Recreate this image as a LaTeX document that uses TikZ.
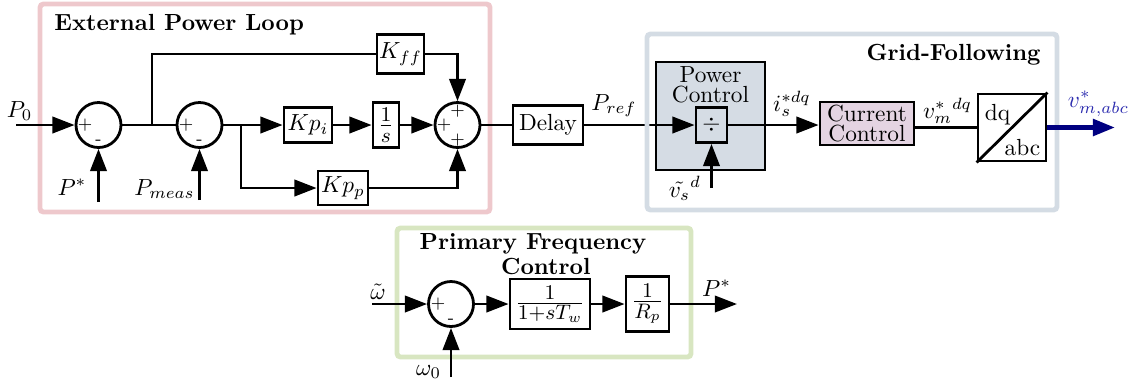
\documentclass[tikz,border=0pt]{standalone}
\usetikzlibrary{arrows.meta}
\def\u{0.429pt}
\definecolor{pinkf}{RGB}{238,200,204}
\definecolor{greyf}{RGB}{212,220,228}
\definecolor{greenf}{RGB}{216,230,193}
\definecolor{pcfill}{RGB}{213,220,228}
\definecolor{ccfill}{RGB}{228,212,226}
\definecolor{navyc}{RGB}{0,0,128}
\definecolor{bluec}{RGB}{45,45,175}
\begin{document}
\begin{tikzpicture}[x=0.429pt,y=-0.429pt, line width=1.2pt,
  >={Triangle[length=9.5pt,width=7pt]},
  box/.style={draw, line width=1.2pt, inner sep=0pt, fill=white},
  fracbox/.style={box, font=\fontsize{12.5}{14}\selectfont},
  sumc/.style={draw, circle, line width=1.2pt, minimum size=45*\u, inner sep=0pt},
  sgn/.style={font=\fontsize{7.5}{8}\selectfont, inner sep=0pt},
  lbl/.style={inner sep=0pt, anchor=base},
  frame/.style={line width=2.1pt, rounded corners=1.5pt},
  ttl/.style={font=\bfseries, inner sep=0pt},
]
\useasboundingbox (0,0) rectangle (1141,382);

% frames behind
\draw[frame, draw=pinkf] (40,4) rectangle (490,212);
\draw[frame, draw=greenf] (397,228) rectangle (691,357);

% titles
\node[ttl, anchor=base west] (t1) at (53,30) {External Power Loop};
\node[ttl, anchor=base east] (t2) at (1042,60) {Grid-Following};
\node[ttl, align=center, anchor=north, font=\bfseries\fontsize{10}{10.7}\selectfont] (t3) at (533,232) {Primary Frequency\\\hspace*{11pt}Control};

% external power loop
\node[sumc] (s1) at (98.5,125) {};
\node[sumc] (s2) at (199.5,125) {};
\node[sumc] (s3) at (457.5,125) {};
\node[box, minimum width=47*\u, minimum height=39*\u] (kff) at (400.5,54) {$K_{ff}$};
\node[box, minimum width=48*\u, minimum height=35*\u] (kpi) at (308,125) {$Kp_i$};
\node[fracbox, minimum width=26*\u, minimum height=45*\u] (ints) at (386,125) {$\frac{1}{s}$};
\node[box, minimum width=50*\u, minimum height=34*\u] (kpp) at (343,188) {$Kp_p$};
\node[box, minimum width=70*\u, minimum height=39*\u] (delay) at (548,125) {Delay};

% grid following
\node[box, fill=pcfill, minimum width=109*\u, minimum height=108*\u] (pc) at (710.5,116) {};
\node[inner sep=0pt, align=center, anchor=north, font=\fontsize{10}{8.6}\selectfont] (pctxt) at (710.5,65) {Power\\Control};
\node[box, fill=pcfill, minimum width=31*\u, minimum height=35*\u] (div) at (711.5,125) {$\div$};
\node[box, fill=ccfill, align=center, font=\fontsize{10}{8.4}\selectfont, minimum width=94*\u, minimum height=43*\u] (cc) at (867,123.5) {Current\\Control};
\node[box, minimum width=68*\u, minimum height=67*\u] (dq) at (1012,127.5) {};
\draw (dq.south west) -- (dq.north east);
\node[lbl] (dqt) at (997.5,120) {dq};
\node[lbl] (abct) at (1022.5,155) {abc};

% primary frequency control
\node[sumc] (s4) at (451,304) {};
\node[fracbox, minimum width=80*\u, minimum height=50*\u] (tf1) at (550,304) {$\frac{1}{1+sT_w}$};
\node[fracbox, minimum width=43*\u, minimum height=55*\u] (tf2) at (647.5,304) {$\frac{1}{R_p}$};

% free ends
\coordinate (p0in) at (16,125);
\coordinate (pstarin) at (98.5,202);
\coordinate (pmeasin) at (199.5,200);
\coordinate (br1) at (152,125);
\coordinate (br2) at (241,125);
\coordinate (vsin) at (711.5,188);
\coordinate (vout) at (1115,127.5);
\coordinate (win) at (372,304);
\coordinate (w0in) at (451,377);
\coordinate (pout) at (737,304);

% connectors
\draw[->] (p0in) -- (s1.west);
\draw[->] (pstarin) -- (s1.south);
\draw (s1.east) -- (s2.west);
\draw (br1) |- (kff.west);
\draw[->] (kff.east) -| (s3.north);
\draw[->] (pmeasin) -- (s2.south);
\draw[->] (s2.east) -- (kpi.west);
\draw[->] (kpi.east) -- (ints.west);
\draw[->] (ints.east) -- (s3.west);
\draw[->] (br2) |- (kpp.west);
\draw[->] (kpp.east) -| (s3.south);
\draw (s3.east) -- (delay.west);
\draw[->] (delay.east) -- (div.west);
\draw[->] (vsin) -- (div.south);
\draw[->] (div.east) -- (div.east -| cc.west);
\draw (cc.east |- dq.west) -- (dq.west);

\draw[->] (win) -- (s4.west);
\draw[->] (w0in) -- (s4.south);
\draw[->] (s4.east) -- (tf1.west);
\draw[->] (tf1.east) -- (tf2.west);
\draw[->] (tf2.east) -- (pout);

% grey frame on top
\draw[frame, draw=greyf] (647,34) rectangle (1057,210);
\draw[->, draw=navyc, line width=2pt] (dq.east) -- (vout);

% signs
\node[sgn] (s1p) at ([shift={(-13.5,0)}]s1.center) {+};
\node[sgn] (s1m) at ([shift={(0,17)}]s1.center) {-};
\node[sgn] (s2p) at ([shift={(-13.5,0)}]s2.center) {+};
\node[sgn] (s2m) at ([shift={(0,17)}]s2.center) {-};
\node[sgn] (s3l) at ([shift={(-13.5,0)}]s3.center) {+};
\node[sgn] (s3t) at ([shift={(0,-14)}]s3.center) {+};
\node[sgn] (s3b) at ([shift={(0,15)}]s3.center) {+};
\node[sgn] (s4p) at ([shift={(-13,0)}]s4.center) {+};
\node[sgn] (s4m) at ([shift={(0,17)}]s4.center) {-};

% labels
\node[lbl] (lp0) at (19.5,117) {$P_0$};
\node[lbl] (lpstar) at (72,195) {$P^*$};
\node[lbl] (lpmeas) at (164.5,195) {$P_{meas}$};
\node[lbl] (lpref) at (614,110) {$P_{ref}$};
\node[lbl] (lvs) at (685,197) {$\tilde{v_s}^d$};
\node[lbl] (lis) at (792,111) {$i_s^{*dq}$};
\node[lbl] (lvm) at (947.5,118) {$v_m^{*}{}^{dq}$};
\node[lbl, text=bluec] (lvabc) at (1098.5,107) {$v^*_{m,abc}$};
\node[lbl] (lw) at (378,299) {$\tilde{\omega}$};
\node[lbl] (lw0) at (428.5,375) {$\omega_0$};
\node[lbl] (lpstar2) at (716.5,296) {$P^*$};
\end{tikzpicture}
\end{document}
